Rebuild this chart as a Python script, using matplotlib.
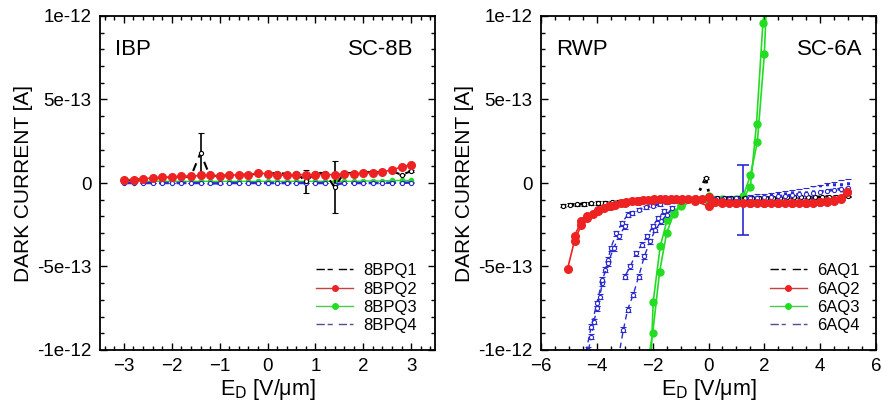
import numpy as np
import matplotlib
matplotlib.use("Agg")
import matplotlib.pyplot as plt
from matplotlib.ticker import MultipleLocator, FixedLocator, FixedFormatter

plt.rcParams["font.family"] = ["Liberation Sans", "DejaVu Sans"]

SCALE = 1e-13  # all currents below are in units of 1e-13 A

# ---------------- left panel: IBP / SC-8B ----------------
ibp_x = [-3.0, -2.8, -2.6, -2.4, -2.2, -2.0, -1.8, -1.6, -1.4, -1.2, -1.0,
         -0.8, -0.6, -0.4, -0.2, 0.0, 0.2, 0.4, 0.6, 0.8, 1.0, 1.2, 1.4,
         1.6, 1.8, 2.0, 2.2, 2.4, 2.6, 2.8, 3.0]
q1_ibp = [0.15, 0.2, 0.25, 0.3, 0.3, 0.35, 0.35, 0.4, 1.8, 0.4, 0.45, 0.45,
          0.5, 0.5, 0.55, 0.55, 0.6, 0.55, 0.6, 0.1, 0.6, 0.6, -0.25, 0.6,
          0.6, 0.65, 0.65, 0.65, 0.7, 0.5, 0.7]
q1_ibp_err = [0.05, 0.05, 0.05, 0.05, 0.05, 0.05, 0.05, 0.05, 1.2, 0.05, 0.05,
              0.05, 0.05, 0.05, 0.05, 0.05, 0.05, 0.05, 0.05, 0.7, 0.05, 0.05,
              1.55, 0.05, 0.05, 0.05, 0.05, 0.05, 0.05, 0.05, 0.05]
q2_ibp = [0.2, 0.2, 0.25, 0.3, 0.35, 0.35, 0.4, 0.4, 0.45, 0.45, 0.4, 0.45,
          0.5, 0.5, 0.6, 0.55, 0.5, 0.45, 0.5, 0.5, 0.5, 0.5, 0.5, 0.55, 0.55,
          0.6, 0.6, 0.65, 0.8, 0.95, 1.1]
q3_ibp = [0.1, 0.1, 0.1, 0.1, 0.1, 0.1, 0.1, 0.1, 0.1, 0.1, 0.1, 0.1, 0.1,
          0.1, 0.1, 0.1, 0.1, 0.1, 0.1, 0.1, 0.1, 0.1, 0.1, 0.1, 0.1, 0.12,
          0.12, 0.12, 0.15, 0.15, 0.15]
q4_ibp = [0.0, 0.0, 0.0, 0.0, 0.0, 0.0, 0.0, 0.0, 0.0, -0.02, -0.02, 0.0, 0.0,
          0.0, 0.0, 0.0, 0.0, 0.0, 0.0, 0.0, 0.0, 0.0, -0.1, 0.0, 0.0, 0.0,
          0.0, 0.0, 0.02, 0.02, 0.02]

# ---------------- right panel: RWP / SC-6A ----------------
q1_rwp_x = [-5.2, -4.95, -4.7, -4.45, -4.2, -3.95, -3.7, -3.45, -3.2, -2.95,
            -2.7, -2.45, -2.2, -1.95, -1.7, -1.45, -1.2, -0.95, -0.7, -0.45,
            -0.1, 0.05, 0.3, 0.55, 0.8, 1.05, 1.3, 1.55, 1.8, 2.05, 2.3,
            2.55, 2.8, 3.05, 3.3, 3.55, 3.8, 4.05, 4.3, 4.55, 4.8, 5.0]
q1_rwp = [-1.35, -1.3, -1.28, -1.25, -1.22, -1.2, -1.17, -1.15, -1.12, -1.1,
          -1.08, -1.05, -1.03, -1.0, -1.0, -0.98, -0.97, -0.95, -0.95, -0.93,
          0.3, -0.9, -0.9, -0.9, -0.9, -0.9, -0.9, -0.88, -0.88, -0.88,
          -0.87, -0.87, -0.86, -0.86, -0.85, -0.85, -0.84, -0.83, -0.82,
          -0.82, -0.8, -0.8]
q1_rwp_err = [0.08, 0.1, 0.1, 0.1, 0.1, 0.1, 0.08, 0.08, 0.08, 0.06, 0.06,
              0.05, 0.05, 0.05, 0.05, 0.05, 0.05, 0.05, 0.05, 0.05, 0.05,
              0.05, 0.05, 0.05, 0.05, 0.05, 0.05, 0.05, 0.05, 0.05, 0.05,
              0.05, 0.05, 0.05, 0.05, 0.05, 0.05, 0.05, 0.05, 0.05, 0.05, 0.05]

q2_rwp_x_up = [-5.05, -4.8, -4.55, -4.35, -4.15, -3.95, -3.75, -3.55, -3.35,
               -3.15, -2.95, -2.75, -2.55, -2.35, -2.15, -1.95, -1.75, -1.55,
               -1.35, -1.15, -0.95, -0.75, -0.5, -0.25, 0.0, 0.25, 0.5, 0.75,
               1.0, 1.25, 1.5, 1.75, 2.0, 2.25, 2.5, 2.75, 3.0, 3.25, 3.5,
               3.75, 4.0, 4.25, 4.5, 4.75, 4.95]
q2_rwp_up = [-5.15, -3.45, -2.5, -2.1, -1.85, -1.65, -1.5, -1.4, -1.3, -1.22,
             -1.15, -1.1, -1.06, -1.03, -1.0, -0.98, -0.97, -0.96, -0.95,
             -0.95, -0.95, -0.96, -0.97, -0.98, -0.85, -1.15, -1.15, -1.18,
             -1.2, -1.2, -1.2, -1.22, -1.22, -1.22, -1.22, -1.22, -1.22,
             -1.2, -1.2, -1.18, -1.15, -1.12, -1.05, -0.95, -0.55]
q2_rwp_x_dn = [4.95, 4.75, 4.5, 4.25, 4.0, 3.5, 3.0, 2.5, 2.0, 1.5, 1.0, 0.5,
               0.0, -0.5, -1.0, -1.5, -2.0, -2.5, -3.0, -3.5, -3.95, -4.35,
               -4.55, -4.8]
q2_rwp_dn = [-0.55, -0.9, -1.0, -1.05, -1.12, -1.18, -1.2, -1.2, -1.2, -1.18,
             -1.18, -1.2, -1.4, -1.05, -1.0, -1.0, -1.02, -1.08, -1.2, -1.35,
             -1.6, -1.95, -2.3, -3.15]

q3_rwp_x_a = [-2.12, -2.0, -1.75, -1.5, -1.25, -1.0, -0.5, 0.0, 0.5, 1.0,
              1.25, 1.5, 1.75, 2.0, 2.07]
q3_rwp_a = [-10.2, -9.0, -5.3, -3.0, -1.85, -1.4, -1.05, -0.75, -0.95, -0.95,
            -0.75, 0.45, 2.45, 7.7, 10.5]
q3_rwp_x_b = [-2.05, -1.98, -1.73, -1.48, -1.22, -1.0, -0.5, 0.0, 0.5, 1.0,
              1.25, 1.5, 1.72, 1.95, 2.02]
q3_rwp_b = [-10.2, -7.1, -3.8, -2.2, -1.75, -1.3, -1.0, -1.2, -1.0, -1.0,
            -0.85, -0.24, 3.55, 9.6, 10.5]

q4_rwp_x_flat = [-2.75, -2.5, -2.25, -2.0, -1.75, -1.5, -1.25, -1.0, -0.75,
                 -0.5, -0.25, 0.0, 0.25, 0.5, 0.75, 1.0, 1.5, 1.75,
                 2.0, 2.25, 2.5, 2.75, 3.0, 3.25, 3.5, 3.75, 4.0, 4.25, 4.5,
                 4.75, 5.0]
q4_rwp_flat = [-1.8, -1.6, -1.45, -1.35, -1.25, -1.15, -1.05, -1.0, -0.95,
               -0.93, -0.92, -0.95, -0.95, -0.95, -0.93, -0.92, -0.9,
               -0.88, -0.85, -0.82, -0.8, -0.76, -0.72, -0.68, -0.64, -0.58,
               -0.52, -0.46, -0.4, -0.35, -0.3]
q4_rwp_flat_err = [0.1, 0.1, 0.1, 0.1, 0.12, 0.12, 0.12, 0.12, 0.12, 0.12,
                   0.12, 0.15, 0.15, 0.15, 0.15, 0.15, 0.2, 0.2, 0.22,
                   0.25, 0.27, 0.3, 0.32, 0.34, 0.36, 0.4, 0.42, 0.45, 0.48,
                   0.52, 0.55]
q4_rwp_big_x = [1.25]
q4_rwp_big = [-1.0]
q4_rwp_big_err = [2.1]
q4_rwp_x_s1 = [-2.9, -3.1, -3.3, -3.5, -3.6, -3.7, -3.8, -3.9, -4.0, -4.1,
               -4.2, -4.3]
q4_rwp_s1 = [-1.9, -2.4, -3.0, -3.9, -4.6, -5.2, -6.0, -6.8, -7.5, -8.3,
             -9.2, -10.0]
q4_rwp_x_s2 = [-3.0, -3.2, -3.4, -3.6, -3.8, -4.0, -4.2, -4.4]
q4_rwp_s2 = [-2.6, -3.2, -3.9, -4.8, -5.8, -7.2, -8.6, -10.2]
q4_rwp_x_s3 = [-1.3, -1.5, -1.7, -1.9, -2.1, -2.3, -2.5, -2.7, -2.9, -3.05,
               -3.2]
q4_rwp_s3 = [-1.5, -1.9, -2.3, -2.8, -3.5, -4.4, -5.6, -6.7, -7.6, -8.8,
             -10.2]
q4_rwp_x_s4 = [-1.6, -1.8, -2.0, -2.2, -2.4, -2.6, -2.8, -3.0]
q4_rwp_s4 = [-1.7, -2.1, -2.6, -3.2, -3.7, -4.2, -5.0, -5.6]

BLACK = "black"
RED = "#ee2222"
GREEN = "#22dd22"
BLUE = "#2a2ad0"


def sc(v):
    return np.asarray(v, dtype=float) * SCALE


def style_axes(ax, xlim, xmajor, xminor):
    ax.set_xlim(*xlim)
    ax.set_ylim(-1e-12, 1e-12)
    ax.xaxis.set_major_locator(MultipleLocator(xmajor))
    ax.xaxis.set_minor_locator(MultipleLocator(xminor))
    yt = [-1e-12, -5e-13, 0, 5e-13, 1e-12]
    ax.yaxis.set_major_locator(FixedLocator(yt))
    ax.yaxis.set_major_formatter(FixedFormatter(["-1e-12", "-5e-13", "0", "5e-13", "1e-12"]))
    ax.yaxis.set_minor_locator(MultipleLocator(1e-13))
    ax.tick_params(which="both", direction="in", top=True, right=True,
                   labelsize=13.5, width=1.0)
    ax.tick_params(which="major", length=5, pad=6)
    ax.tick_params(which="minor", length=3)
    for s in ax.spines.values():
        s.set_linewidth(1.3)
    ax.set_ylabel("DARK CURRENT [A]", fontsize=15, labelpad=3)
    ax.set_xlabel("E$_\\mathrm{D}$ [V/\u03bcm]", fontsize=15.5, labelpad=1)


def dashed_errorbar(ax, x, y, err, color, ls, label=None, lw=1.0, elw=1.2):
    h = ax.errorbar(x, sc(y), yerr=sc(err), color=color, ls=ls, lw=lw,
                    marker="o", ms=3, mfc="white", mec=color, mew=0.8,
                    capsize=2.5, elinewidth=elw, capthick=1.2, label=label)
    return h


def add_legend(ax, names, x_anchor):
    ax.plot([], [], color=BLACK, lw=1.0, ls=(0, (6, 2)), marker="o", ms=3,
            mfc="white", mec="white", label=names[0])
    ax.plot([], [], color="#c84040", lw=1.0, marker="o", ms=4, mfc=RED, mec=RED, label=names[1])
    ax.plot([], [], color="#50c850", lw=1.0, marker="o", ms=4, mfc=GREEN, mec=GREEN, label=names[2])
    ax.plot([], [], color="#505090", lw=1.0, ls=(0, (6, 2)), marker="o", ms=3,
            mfc="white", mec="white", label=names[3])
    ax.legend(loc="lower right", bbox_to_anchor=(x_anchor, 0.005), frameon=False,
              fontsize=12, handlelength=2.2, labelspacing=0.2, handletextpad=0.6)


fig = plt.figure(figsize=(8.82, 4.11), dpi=100)
ax1 = fig.add_axes([100 / 882, 61 / 411, 335 / 882, 334 / 411])
ax2 = fig.add_axes([541 / 882, 61 / 411, 335 / 882, 334 / 411])

# left panel
z = [0.02] * len(ibp_x)
dashed_errorbar(ax1, ibp_x, q4_ibp, z, BLUE, (0, (4, 3)), lw=1.8)
ax1.plot(ibp_x, sc(q3_ibp), color=GREEN, lw=1.0, marker="o", ms=3)
dashed_errorbar(ax1, ibp_x, q1_ibp, q1_ibp_err, BLACK, (0, (4, 3)), lw=1.5)
ax1.plot(ibp_x, sc(q2_ibp), color=RED, lw=1.2, marker="o", ms=5.5, zorder=4)
add_legend(ax1, ["8BPQ1", "8BPQ2", "8BPQ3", "8BPQ4"], 0.99)
ax1.text(0.045, 0.9, "IBP", transform=ax1.transAxes, fontsize=16, va="center")
ax1.text(0.935, 0.9, "SC-8B", transform=ax1.transAxes, fontsize=16, va="center", ha="right")
style_axes(ax1, (-3.5, 3.5), 1, 0.2)

# right panel
dashed_errorbar(ax2, q1_rwp_x, q1_rwp, q1_rwp_err, BLACK, (0, (1, 2)), lw=2.0)
for xs, ys in [(q4_rwp_x_s1, q4_rwp_s1), (q4_rwp_x_s2, q4_rwp_s2),
               (q4_rwp_x_s3, q4_rwp_s3), (q4_rwp_x_s4, q4_rwp_s4)]:
    dashed_errorbar(ax2, xs, ys, [0.15] * len(xs), BLUE, (0, (4, 3)), lw=1.0)
h = dashed_errorbar(ax2, q4_rwp_x_flat, q4_rwp_flat, q4_rwp_flat_err, BLUE,
                    (0, (1, 2)), lw=2.0, elw=2.2)
h[2][0].set_linestyle((0, (1, 1)))
ax2.errorbar(q4_rwp_big_x, sc(q4_rwp_big), yerr=sc(q4_rwp_big_err), color=BLUE,
             ls="none", elinewidth=1.2, capsize=4, capthick=1.2)
ax2.plot(q3_rwp_x_a, sc(q3_rwp_a), color=GREEN, lw=1.2, marker="o", ms=5)
ax2.plot(q3_rwp_x_b, sc(q3_rwp_b), color=GREEN, lw=1.2, marker="o", ms=5)
ax2.plot(q2_rwp_x_up, sc(q2_rwp_up), color=RED, lw=1.2, marker="o", ms=5.5, zorder=4)
ax2.plot(q2_rwp_x_dn, sc(q2_rwp_dn), color=RED, lw=1.2, marker="o", ms=5.5, zorder=4)
add_legend(ax2, ["6AQ1", "6AQ2", "6AQ3", "6AQ4"], 0.995)
ax2.text(0.045, 0.9, "RWP", transform=ax2.transAxes, fontsize=16, va="center")
ax2.text(0.96, 0.9, "SC-6A", transform=ax2.transAxes, fontsize=16, va="center", ha="right")
style_axes(ax2, (-6, 6), 2, 0.5)

fig.savefig("out.png", dpi=100)
